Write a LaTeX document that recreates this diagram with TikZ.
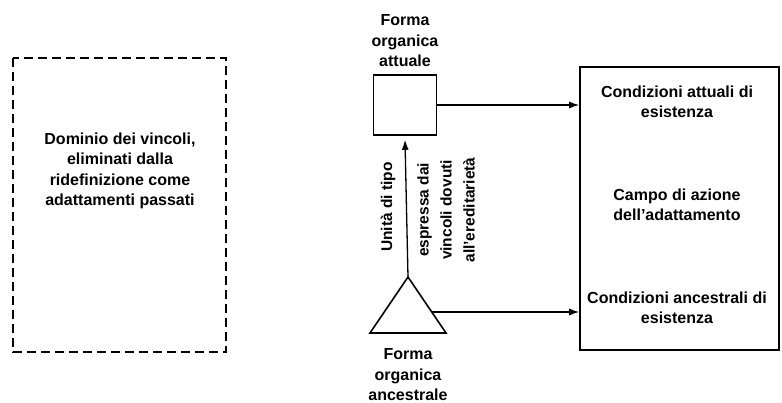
\documentclass[tikz,border=0pt]{standalone}
\usepackage{fontspec}
\setmainfont{Liberation Sans}
\usepackage{tikz}
\usetikzlibrary{arrows.meta,positioning}

\begin{document}
\begin{tikzpicture}[x=1pt, y=-1pt,
    font=\fontsize{16}{20.5}\selectfont\bfseries,
    txt/.style={align=center, inner sep=0pt},
    sidetxt/.style={txt, rotate=90, font=\fontsize{15.5}{23}\selectfont\bfseries},
    frame/.style={draw, line width=1.6pt},
    link/.style={draw, line width=1.3pt, -{Latex[length=10pt, width=7pt]}}]

%      \draw[help lines] (0,0) grid[step=50] (782,403);
      \useasboundingbox (0,0) rectangle (782,403);

      % vincoli
      \draw[frame, dash pattern=on 9pt off 5pt] (13,58) rectangle (226,352);
      \node[txt] (dominio) at (120,171) {Dominio dei vincoli,\\ eliminati dalla\\ ridefinizione come\\ adattamenti passati};

      % forme organiche
      \node[frame, minimum width=63pt, minimum height=60pt, inner sep=0pt] (attuale) at (405,105) {};
      \node[txt] (attlab) at (405,41) {Forma\\ organica\\ attuale};
      \draw[frame, line join=miter] (370,333) coordinate (tribl) -- (408,277) coordinate (apex) -- (446,333) coordinate (tribr) -- cycle;
      \node[txt] (anclab) at (408,375) {Forma\\ organica\\ ancestrale};

      \path[link] (apex) -- ([yshift=-4pt]attuale.south);
      \node[sidetxt] (unita) at (388,207) {Unità di tipo};
      \node[sidetxt] (espressa) at (446,210) {espressa dai\\ vincoli dovuti\\ all'ereditarietà};

      % condizioni
      \node[frame, minimum width=199pt, minimum height=283pt, inner sep=0pt] (campo) at (679.5,208.5) {};
      \node[txt] (condatt) at (677,102) {Condizioni attuali di\\ esistenza};
      \node[txt] (azione) at (677,205) {Campo di azione\\ dell'adattamento};
      \node[txt] (condanc) at (677,308) {Condizioni ancestrali di\\ esistenza};

      \path[link] (attuale.east) -- (attuale.east -| campo.west);
      \path[link] (432,312) coordinate (trimid) -- (trimid -| campo.west);
\end{tikzpicture}
\end{document}
